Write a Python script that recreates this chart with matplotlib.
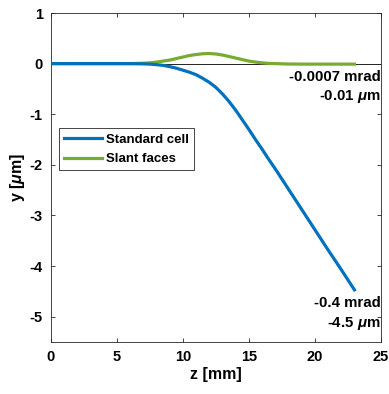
import numpy as np
import matplotlib
matplotlib.use('Agg')
import matplotlib.pyplot as plt

plt.rcParams['font.family'] = ['Liberation Sans', 'DejaVu Sans']
plt.rcParams['font.weight'] = 'bold'
plt.rcParams['axes.unicode_minus'] = False
plt.rcParams['mathtext.fontset'] = 'custom'
plt.rcParams['mathtext.it'] = 'Liberation Sans:italic:bold'

# values
z = [0, 1, 2, 3, 4, 5, 6, 7, 7.5, 8, 8.5, 9, 9.5, 10, 10.5, 11, 11.5, 12, 12.5, 13, 13.5,
     14, 14.5, 15, 15.5, 16, 16.5, 17, 18, 19, 20, 21, 22, 23]
y_standard = [0, 0, 0, 0, 0, 0, 0, -0.005, -0.01, -0.02, -0.035, -0.06, -0.09, -0.13, -0.17,
              -0.22, -0.29, -0.37, -0.47, -0.60, -0.75, -0.92, -1.11, -1.30, -1.50, -1.69,
              -1.89, -2.08, -2.48, -2.88, -3.28, -3.68, -4.07, -4.47]
y_slant = [0, 0, 0, 0, 0, 0, 0, 0.008, 0.015, 0.03, 0.05, 0.07, 0.10, 0.13, 0.16, 0.18,
           0.195, 0.20, 0.19, 0.17, 0.14, 0.11, 0.08, 0.05, 0.03, 0.015, 0.005, 0.0,
           -0.008, -0.01, -0.01, -0.01, -0.01, -0.01]

labels = ['Standard cell', 'Slant faces']
colors = ['#0072BD', '#77AC30']

fig = plt.figure(figsize=(3.89, 3.94), dpi=100)
ax = fig.add_axes([0.131, 0.132, 0.848, 0.835])

ax.axhline(0, color='black', lw=0.6, zorder=1)
ax.plot(z, y_standard, color=colors[0], lw=2.3, label=labels[0], zorder=3)
ax.plot(z, y_slant, color=colors[1], lw=2.3, label=labels[1], zorder=2)

ax.set_xlim(0, 25)
ax.set_ylim(-5.5, 1)
ax.set_xticks([0, 5, 10, 15, 20, 25])
ax.set_yticks([1, 0, -1, -2, -3, -4, -5])
ax.tick_params(direction='in', top=True, right=True, length=3, width=0.6,
               labelsize=10.5, colors='#262626', labelcolor='black', pad=6)
for s in ax.spines.values():
    s.set_color('#262626')
    s.set_linewidth(0.6)

ax.set_xlabel('z [mm]', fontsize=11.5, fontweight='bold', labelpad=2)
ax.set_ylabel(r'y [$\mu$m]', fontsize=11.5, fontweight='bold', labelpad=2)

ax.text(25, -0.12, '-0.0007 mrad\n' + r'-0.01 $\mu$m', ha='right', va='top',
        fontsize=10.8, fontweight='bold', linespacing=1.35)
ax.text(25, -4.6, '-0.4 mrad\n' + r'-4.5 $\mu$m', ha='right', va='top',
        fontsize=10.8, fontweight='bold', linespacing=1.35)

leg = ax.legend(loc='upper left', bbox_to_anchor=(0.024, 0.65), fontsize=9.5,
                handlelength=2.9, handletextpad=0.25, borderpad=0.4,
                labelspacing=0.55, fancybox=False, framealpha=1, borderaxespad=0)
leg.get_frame().set_edgecolor('#262626')
leg.get_frame().set_linewidth(0.6)

plt.savefig('out.png', dpi=100)
